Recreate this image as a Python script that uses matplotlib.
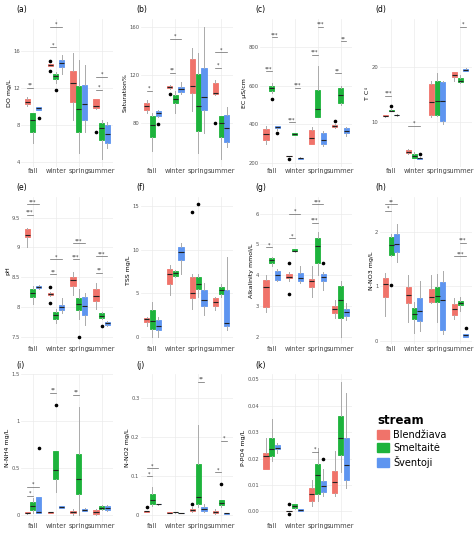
import matplotlib
matplotlib.use('Agg')
import matplotlib.pyplot as plt
from matplotlib.patches import Patch

# ==========================================
# ДАННЫЕ: [нижний ус, Q1, медиана, Q3, верхний ус] по сезонам, для каждого потока
# ==========================================
seasons = ['fall', 'winter', 'spring', 'summer']
streams = ['Blendžiava', 'Smeltaitė', 'Šventoji']
colors = ['#F0736A', '#1DB33C', '#5E95F0']

do_b = [[10, 10.2, 10.5, 10.8, 11], [14.4, 14.4, 14.5, 14.6, 14.6], [8.5, 10.5, 12.5, 13.8, 15.8], [9.7, 9.8, 10, 10.8, 10.8]]
do_s = [[6, 7.2, 8.5, 9.3, 9.3], [12.5, 13, 13.3, 13.5, 13.7], [5, 7.2, 9.7, 12.2, 15], [4.3, 6.4, 7.6, 8.2, 8.5]]
do_v = [[9.6, 9.6, 9.8, 9.9, 9.9], [13.5, 14.3, 14.7, 15, 15.6], [7.2, 8.5, 10.3, 12.3, 14.5], [5.5, 6, 7, 8, 8.3]]
do_fl = [(0, 2, 8.7), (1, 0, 13.8), (1, 0, 14.9), (1, 1, 11.8), (3, 0, 7.2)]
do_sig = [(0, 0, 1, 12, '**'), (1, 0, 1, 16.4, '*'), (1, 0, 2, 18.6, '*'), (3, 0, 1, 11.8, '*'), (3, 0, 2, 13.2, '*')]

sat_b = [[88, 91, 94, 97, 99], [108, 109, 110, 110.5, 112], [90, 105, 111, 133, 142], [103, 104, 105, 113, 116]]
sat_s = [[57, 68, 78, 86, 88], [88, 97, 100, 103, 107], [55, 73, 94, 121, 138], [50, 68, 80, 86, 86]]
sat_v = [[85, 86, 88, 90, 91], [104, 106, 108, 110, 114], [72, 91, 102, 126, 160], [60, 64, 76, 87, 93]]
sat_fl = [(0, 2, 79), (1, 0, 104), (3, 0, 80)]
sat_sig = [(0, 0, 1, 107, '*'), (1, 0, 1, 122, '**'), (1, 0, 2, 150, '*'), (3, 0, 1, 126, '*'), (3, 0, 2, 139, '*')]

ec_b = [[300, 320, 350, 375, 390], [235, 235, 237, 238, 238], [300, 300, 330, 370, 385], [380, 385, 390, 395, 400]]
ec_s = [[560, 575, 590, 600, 615], [345, 345, 350, 355, 355], [440, 440, 480, 580, 700], [500, 510, 550, 590, 600]]
ec_v = [[370, 380, 385, 390, 390], [222, 222, 224, 226, 228], [285, 300, 320, 355, 365], [340, 355, 365, 380, 385]]
ec_fl = [(0, 1, 530), (0, 2, 355), (1, 0, 220), (3, 0, 415)]
ec_sig = [(0, 0, 1, 675, '***'), (0, 1, 2, 850, '***'), (1, 0, 1, 410, '***'), (1, 1, 2, 590, '***'),
          (2, 0, 1, 760, '***'), (2, 1, 2, 905, '***'), (3, 0, 1, 665, '**'), (3, 1, 2, 830, '**')]

t_b = [[11, 11.05, 11.1, 11.3, 11.4], [4.3, 4.4, 4.5, 5.0, 5.1], [11, 11.4, 13.7, 17.0, 17.5], [17.6, 18.2, 18.7, 19.1, 19.2]]
t_s = [[12.0, 12.0, 12.1, 12.3, 12.4], [3.5, 3.5, 3.8, 4.2, 4.6], [11.1, 11.4, 13.9, 17.6, 19], [17.2, 17.3, 17.6, 18.1, 18.6]]
t_v = [[11.2, 11.25, 11.3, 11.4, 11.5], [3.3, 3.3, 3.4, 3.5, 3.6], [9.7, 10.3, 13.8, 17.3, 17.6], [19.3, 19.4, 19.6, 19.8, 19.9]]
t_fl = [(0, 1, 13.0), (1, 2, 4.2)]
t_sig = [(0, 0, 1, 14.8, '***'), (1, 0, 2, 9.4, '*'), (3, 1, 2, 27.4, '*')]

ph_b = [[9.0, 9.18, 9.2, 9.3, 9.33], [8.18, 8.2, 8.22, 8.24, 8.25], [8.2, 8.35, 8.45, 8.5, 8.58], [7.97, 8.1, 8.18, 8.3, 8.4]]
ph_s = [[8.05, 8.17, 8.23, 8.3, 8.35], [7.72, 7.8, 7.86, 7.92, 7.97], [7.8, 7.95, 8.05, 8.15, 8.3], [7.8, 7.82, 7.85, 7.89, 7.92]]
ph_v = [[8.3, 8.31, 8.33, 8.35, 8.36], [7.9, 7.95, 7.99, 8.03, 8.15], [7.7, 7.87, 8.01, 8.16, 8.23], [7.68, 7.7, 7.72, 7.74, 7.76]]
ph_fl = [(1, 0, 8.07), (1, 0, 8.33), (2, 1, 7.5), (3, 1, 7.68)]
ph_sig = [(0, 0, 1, 9.55, '***'), (0, 0, 2, 9.72, '***'), (1, 0, 1, 8.55, '**'), (1, 0, 2, 8.8, '*'),
          (2, 0, 1, 8.8, '***'), (2, 0, 2, 9.07, '***'), (3, 0, 1, 8.57, '**'), (3, 0, 2, 8.85, '***')]

tss_b = [[1.2, 1.7, 2.0, 2.1, 2.2], [4.8, 6.0, 7.2, 7.8, 8.2], [3.2, 4.4, 5.0, 6.9, 7.2], [3.0, 3.5, 4.0, 4.4, 4.6]]
tss_s = [[0, 0.9, 1.8, 3.0, 4.0], [6.8, 7.0, 7.3, 7.5, 7.7], [4.5, 5.5, 6.0, 6.9, 7.2], [4.6, 4.9, 5.3, 5.7, 6.1]]
tss_v = [[0, 0.7, 1.2, 1.9, 2.2], [7.2, 8.8, 9.7, 10.3, 10.8], [2.5, 3.5, 4.2, 5.4, 6.2], [0.8, 1.2, 1.6, 5.4, 9.2]]
tss_fl = [(2, 0, 14.3), (2, 1, 15.2)]
tss_sig = []

alk_b = [[2.8, 2.95, 3.6, 3.85, 4.0], [3.8, 3.9, 3.95, 4.05, 4.1], [3.3, 3.6, 3.8, 3.88, 4.3], [2.6, 2.78, 2.9, 3.0, 3.2]]
alk_s = [[4.3, 4.38, 4.48, 4.55, 4.6], [4.75, 4.78, 4.8, 4.84, 4.86], [4.0, 4.38, 4.95, 5.2, 5.4], [2.0, 2.6, 3.2, 3.65, 3.8]]
alk_v = [[3.8, 3.85, 4.0, 4.15, 4.2], [3.75, 3.82, 3.92, 4.07, 4.3], [3.5, 3.8, 3.95, 4.02, 4.1], [2.55, 2.67, 2.8, 2.9, 3.1]]
alk_fl = [(1, 0, 3.4), (1, 0, 4.4), (2, 2, 4.4)]
alk_sig = [(0, 0, 1, 4.9, '*'), (1, 0, 1, 5.2, '*'), (1, 0, 2, 6.0, '*'), (2, 0, 1, 5.7, '***'), (2, 0, 2, 6.3, '***')]

no3_b = [[0.45, 0.8, 1.05, 1.15, 1.25], [0.35, 0.7, 0.85, 0.98, 1.2], [0.7, 0.72, 0.8, 0.95, 1.2], [0.4, 0.48, 0.58, 0.67, 0.78]]
no3_s = [[1.55, 1.58, 1.75, 1.9, 1.95], [0.15, 0.4, 0.5, 0.6, 0.72], [0.35, 0.72, 0.82, 0.98, 1.22], [0.55, 0.65, 0.7, 0.74, 0.8]]
no3_v = [[1.45, 1.62, 1.78, 1.95, 2.15], [0.18, 0.37, 0.55, 0.78, 1.1], [0.12, 0.2, 0.75, 1.08, 1.28], [0.08, 0.08, 0.1, 0.12, 0.13]]
no3_fl = [(0, 1, 1.02), (3, 2, 0.23)]
no3_sig = [(0, 0, 1, 2.38, '*'), (0, 0, 2, 2.5, '**'), (3, 0, 2, 1.55, '***'), (3, 1, 2, 1.8, '***')]

nh4_b = [[0.01, 0.015, 0.02, 0.025, 0.03], [0.02, 0.02, 0.025, 0.03, 0.03], [0.0, 0.015, 0.03, 0.045, 0.06], [0.0, 0.01, 0.025, 0.05, 0.06]]
nh4_s = [[0.02, 0.05, 0.09, 0.14, 0.18], [0.24, 0.38, 0.48, 0.68, 0.68], [0.0, 0.22, 0.38, 0.65, 1.15], [0.05, 0.06, 0.07, 0.09, 0.1]]
nh4_v = [[0.02, 0.02, 0.03, 0.19, 0.19], [0.07, 0.07, 0.08, 0.09, 0.09], [0.04, 0.045, 0.05, 0.06, 0.07], [0.04, 0.05, 0.07, 0.09, 0.1]]
nh4_fl = [(0, 2, 0.71), (1, 1, 1.17)]
nh4_sig = [(0, 0, 1, 0.2, '*'), (0, 0, 2, 0.3, '*'), (1, 0, 1, 1.3, '**'), (2, 0, 1, 1.28, '**')]

no2_b = [[0.009, 0.009, 0.01, 0.011, 0.012], [0.006, 0.006, 0.007, 0.008, 0.008], [0.008, 0.01, 0.013, 0.017, 0.02], [0.003, 0.005, 0.008, 0.012, 0.015]]
no2_s = [[0.025, 0.03, 0.04, 0.055, 0.072], [0.007, 0.008, 0.008, 0.008, 0.009], [0.02, 0.03, 0.047, 0.13, 0.23], [0.02, 0.026, 0.032, 0.04, 0.04]]
no2_v = [[0.027, 0.028, 0.028, 0.029, 0.03], [0.006, 0.006, 0.007, 0.007, 0.007], [0.008, 0.012, 0.015, 0.02, 0.03], [0.004, 0.004, 0.005, 0.006, 0.006]]
no2_fl = [(0, 0, 0.02), (2, 0, 0.03), (3, 1, 0.08)]
no2_sig = [(0, 0, 1, 0.1, '*'), (0, 0, 2, 0.12, '*'), (2, 1, 2, 0.34, '**'), (3, 0, 1, 0.11, '*'), (3, 1, 2, 0.19, '*')]

po4_b = [[0.016, 0.016, 0.021, 0.022, 0.028], [0, 0, 0, 0, 0], [0.002, 0.004, 0.0065, 0.009, 0.012], [0.006, 0.007, 0.011, 0.0155, 0.023]]
po4_s = [[0.019, 0.021, 0.0235, 0.028, 0.035], [0.001, 0.0012, 0.002, 0.003, 0.003], [0.004, 0.0065, 0.014, 0.018, 0.024], [0.015, 0.0215, 0.028, 0.036, 0.049]]
po4_v = [[0.022, 0.0235, 0.024, 0.025, 0.026], [0, 0, 0.0005, 0.001, 0.001], [0.006, 0.0075, 0.0095, 0.0115, 0.016], [0.009, 0.012, 0.0175, 0.028, 0.045]]
po4_fl = [(1, 0, -0.001), (1, 0, 0.003), (2, 2, 0.02)]
po4_sig = [(2, 0, 1, 0.0225, '*')]

panels = [
    ('(a)', 'DO mg/L', [do_b, do_s, do_v], do_fl, do_sig, [4, 8, 12, 16]),
    ('(b)', 'Saturation%', [sat_b, sat_s, sat_v], sat_fl, sat_sig, [80, 120, 160]),
    ('(c)', 'EC µS/cm', [ec_b, ec_s, ec_v], ec_fl, ec_sig, [200, 400, 600, 800]),
    ('(d)', 'T C◦', [t_b, t_s, t_v], t_fl, t_sig, [10, 20]),
    ('(e)', 'pH', [ph_b, ph_s, ph_v], ph_fl, ph_sig, [7.5, 8.0, 8.5, 9.0, 9.5]),
    ('(f)', 'TSS mg/L', [tss_b, tss_s, tss_v], tss_fl, tss_sig, [0, 5, 10, 15]),
    ('(g)', 'Alkalinity mmol/L', [alk_b, alk_s, alk_v], alk_fl, alk_sig, [2, 3, 4, 5, 6]),
    ('(h)', 'N-NO3 mg/L', [no3_b, no3_s, no3_v], no3_fl, no3_sig, [0, 1, 2]),
    ('(i)', 'N-NH4 mg/L', [nh4_b, nh4_s, nh4_v], nh4_fl, nh4_sig, [0.0, 0.5, 1.0, 1.5]),
    ('(j)', 'N-NO2 mg/L', [no2_b, no2_s, no2_v], no2_fl, no2_sig, [0.0, 0.1, 0.2, 0.3]),
    ('(k)', 'P-PO4 mg/L', [po4_b, po4_s, po4_v], po4_fl, po4_sig, [0.00, 0.01, 0.02, 0.03, 0.04, 0.05]),
]

# ==========================================
# ПОСТРОЕНИЕ
# ==========================================
fig, axes = plt.subplots(3, 4, figsize=(4.74, 5.41), dpi=100)
plt.subplots_adjust(left=0.045, right=0.995, top=0.965, bottom=0.035, wspace=0.3, hspace=0.2)
offsets = [-0.25, 0, 0.25]

for ax, (tag, ylabel, stats, fliers, sigs, ticks) in zip(axes.flat, panels):
    for g in range(3):
        bxp_stats = []
        for s in range(4):
            lo, q1, med, q3, hi = stats[g][s]
            bxp_stats.append(dict(whislo=lo, q1=q1, med=med, q3=q3, whishi=hi, fliers=[]))
        ax.bxp(bxp_stats, positions=[s + offsets[g] for s in range(4)], widths=0.22,
               patch_artist=True, showfliers=False, showcaps=False,
               boxprops=dict(facecolor=colors[g], edgecolor=colors[g], linewidth=0.6),
               medianprops=dict(color='#222222', linewidth=0.8),
               whiskerprops=dict(color='#aaaaaa', linewidth=0.7), manage_ticks=False)
    for s, g, v in fliers:
        ax.plot(s + offsets[g], v, 'o', color='black', markersize=1.6)
    for s, g1, g2, y, lab in sigs:
        x1, x2 = s + offsets[g1], s + offsets[g2]
        ax.plot([x1, x2], [y, y], color='#666666', linewidth=0.5)
        ax.text((x1 + x2) / 2, y, lab, ha='center', va='bottom', fontsize=3.5, color='#333333')
    ax.margins(y=0.06)
    ax.set_xticks(range(4))
    ax.set_xticklabels(seasons, fontsize=4.8, color='#444444')
    ax.set_yticks(ticks)
    ax.set_yticklabels([f'{t:g}' if tag != '(k)' else f'{t:.2f}' for t in ticks], fontsize=3.8, color='#555555')
    ax.set_ylabel(ylabel, fontsize=4.5, labelpad=1)
    ax.set_xlim(-0.5, 3.5)
    ax.tick_params(length=0, pad=1)
    ax.grid(True, color='#ebebeb', linewidth=0.5)
    ax.set_axisbelow(True)
    for sp in ax.spines.values():
        sp.set_visible(False)
    ax.text(-0.05, 1.03, tag, transform=ax.transAxes, fontsize=5.5, ha='left', va='bottom')

# Легенда в последней ячейке
lax = axes.flat[11]
lax.axis('off')
handles = [Patch(facecolor=c, edgecolor=c) for c in colors]
leg = lax.legend(handles, streams, title='stream', loc='center left', bbox_to_anchor=(-0.12, 0.55),
                 frameon=False, fontsize=7, title_fontsize=8.5, handlelength=1.2, handleheight=1.0,
                 labelspacing=0.3, alignment='left', handletextpad=0.4)
leg.get_title().set_fontweight('bold')

fig.savefig('out.png', dpi=100)
